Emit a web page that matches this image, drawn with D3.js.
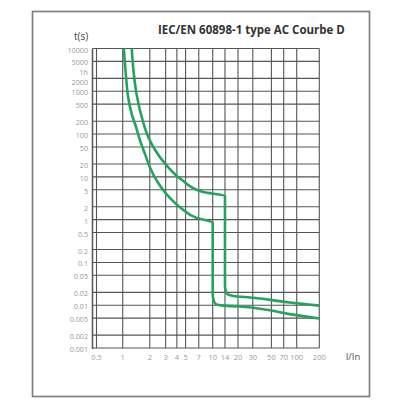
<!DOCTYPE html>
<html>
<head>
<meta charset="utf-8">
<script src="https://cdn.jsdelivr.net/npm/d3@7"></script>
<style>
  body { margin: 0; background: #fff; }
  svg text { font-family: "Open Sans", sans-serif; }
</style>
</head>
<body>
<div id="chart"></div>
<script>
// ticks of the time axis (seconds); "1h" is 3600 s
const yTicks = [10000, 5000, 3600, 2000, 1000, 500, 200, 100, 50, 20, 10, 5, 2, 1, 0.5, 0.2, 0.1, 0.05, 0.02, 0.01, 0.005, 0.002, 0.001]
const yLabels = ["10000", "5000", "1h", "2000", "1000", "500", "200", "100", "50", "20", "10", "5", "2", "1", "0.5", "0.2", "0.1", "0.05", "0.02", "0.01", "0.005", "0.002", "0.001"]
const yGrid = [10000, 5000, 2000, 1000, 500, 200, 100, 50, 20, 10, 5, 2, 1, 0.5, 0.2, 0.1, 0.05, 0.02, 0.01, 0.005, 0.002, 0.001]

// ticks of the current axis (I/In)
const xTicks = [0.5, 1, 2, 3, 4, 5, 7, 10, 14, 20, 30, 50, 70, 100, 200]
const xLabels = ["0.5", "1", "2", "3", "4", "5", "7", "10", "14", "20", "30", "50", "70", "100", "200"]

// lower curve (non tripping)
const lowerI = [1.03, 1.09, 1.15, 1.26, 1.41, 1.56, 1.77, 2.01, 2.39, 3.08, 4.39, 6.64, 10, 10, 10.3, 11, 14, 21, 44, 82, 200]
const lowerT = [10000, 2130, 723, 294, 144, 70, 34, 16.6, 8.1, 3.9, 1.9, 1.1, 0.85, 0.018, 0.0125, 0.0105, 0.0098, 0.0093, 0.0078, 0.0062, 0.0049]

// upper curve (tripping)
const upperI = [1.26, 1.33, 1.43, 1.69, 1.93, 2.28, 3.09, 4.52, 7.86, 14, 14, 14.6, 17.6, 30, 82, 200]
const upperT = [10000, 2500, 824, 188, 84, 43, 18.2, 8.55, 4.41, 3.6, 0.028, 0.019, 0.0165, 0.015, 0.0116, 0.0098]

const width = 394, height = 405,
    plotTop = 48.5, plotBottom = 348,
    green = "#22a45c",
    gridColor = "#555",
    labelColor = "#999";

// the crowded labels at the top are spread a bit, as in the print
const labelNudge = { 5000: -0.5, 3600: 3, 2000: 2.5 }

const svg = d3.select("#chart").append("svg")
    .attr("width", width)
    .attr("height", height)

// the printed grid is log-like but not exactly even, so a polylinear log scale
const x = d3.scaleLog()
    .domain([0.5, 1, 10, 100, 200])
    .range([96.5, 122.7, 212.7, 296.7, 319.3])

const y = d3.scaleLog()
    .domain([0.001, 10000])
    .range([plotBottom, plotTop])

// outer frame
svg.append("rect")
    .attr("x", 32.5).attr("y", 11.5)
    .attr("width", 337).attr("height", 385)
    .attr("fill", "none")
    .attr("stroke", "#7a7a7a")
    .attr("stroke-width", 1.6)

const grid = svg.append("g").attr("stroke", gridColor).attr("stroke-width", 1.1)

grid.selectAll(".hgrid").data(yGrid).enter().append("line")
    .attr("x1", 92.5).attr("x2", x(200))
    .attr("y1", d => y(d)).attr("y2", d => y(d))

grid.selectAll(".vgrid").data(xTicks).enter().append("line")
    .attr("x1", d => x(d)).attr("x2", d => x(d))
    .attr("y1", plotTop).attr("y2", plotBottom)

// left axis line, just outside the 0.5 grid line
grid.append("line")
    .attr("x1", 92.5).attr("x2", 92.5)
    .attr("y1", plotTop).attr("y2", plotBottom + 1)
    .attr("stroke-width", 1.5)

// tick labels
svg.selectAll(".ylab").data(yTicks).enter().append("text")
    .attr("x", 88)
    .attr("y", d => y(d) + 1.5 + (labelNudge[d] || 0))
    .attr("dy", "0.35em")
    .attr("text-anchor", "end")
    .attr("font-size", 7.2)
    .attr("fill", labelColor)
    .text((d, i) => yLabels[i])

svg.selectAll(".xlab").data(xTicks).enter().append("text")
    .attr("x", d => x(d))
    .attr("y", 360)
    .attr("text-anchor", "middle")
    .attr("font-size", 7.5)
    .attr("fill", labelColor)
    .text((d, i) => xLabels[i])

// axis titles and chart title
svg.append("text")
    .attr("x", 81).attr("y", 40)
    .attr("text-anchor", "middle")
    .attr("font-size", 10)
    .attr("fill", "#444")
    .text("t(s)")

svg.append("text")
    .attr("x", 353).attr("y", 360)
    .attr("text-anchor", "middle")
    .attr("font-size", 9.5)
    .attr("fill", "#555")
    .text("I/In")

svg.append("text")
    .attr("x", 158).attr("y", 33.5)
    .attr("font-size", 11.5)
    .attr("font-weight", 700)
    .attr("fill", "#333")
    .text("IEC/EN 60898-1 type AC Courbe D")

// curves: t falls monotonically along each path, so interpolate x as a function of y
const line = d3.line()
    .x(d => x(d[0]))
    .y(d => y(d[1]))
    .curve(d3.curveMonotoneY)

const curves = [
    lowerI.map((v, i) => [v, lowerT[i]]),
    upperI.map((v, i) => [v, upperT[i]])
]

svg.selectAll(".curve").data(curves).enter().append("path")
    .attr("d", line)
    .attr("fill", "none")
    .attr("stroke", green)
    .attr("stroke-width", 2.6)
    .attr("stroke-linejoin", "round")
</script>
</body>
</html>
